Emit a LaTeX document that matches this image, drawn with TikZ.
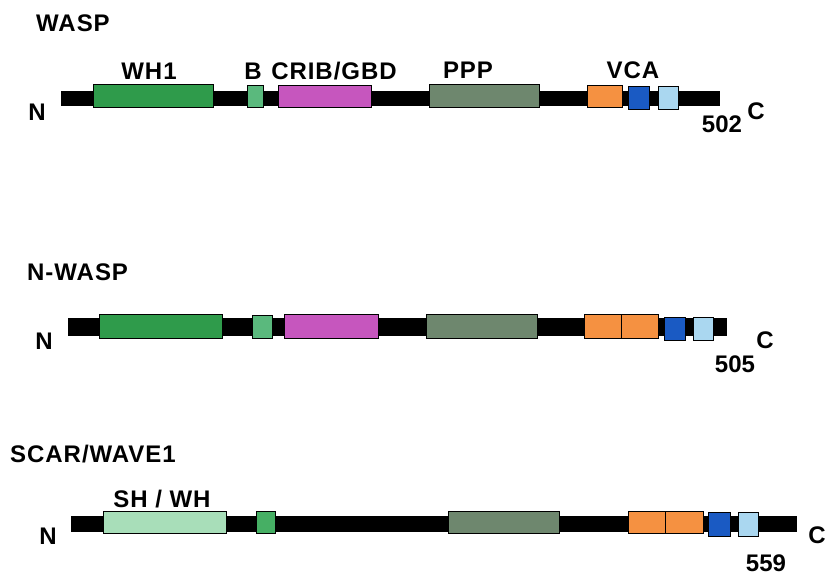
\documentclass[tikz,border=0pt]{standalone}
\usepackage{fontspec}
\setmainfont{Liberation Sans}
\definecolor{whgreen}{HTML}{2F9B4B}
\definecolor{bgreen}{HTML}{5AB97D}
\definecolor{sgreen}{HTML}{46AF64}
\definecolor{shgreen}{HTML}{A8DEB9}
\definecolor{crib}{HTML}{C656BE}
\definecolor{pro}{HTML}{6E876E}
\definecolor{vorange}{HTML}{F59141}
\definecolor{cblue}{HTML}{1A5AC3}
\definecolor{alblue}{HTML}{AAD7F0}
\tikzset{
  spine/.style={fill=black, draw=none, anchor=north west, inner sep=0pt, outer sep=0pt},
  dom/.style={draw=black, line width=1pt, anchor=north west, inner sep=0pt, outer sep=0pt},
  lbl/.style={font=\fontsize{24}{26}\selectfont\bfseries\addfontfeatures{LetterSpace=4}, inner sep=0pt},
  endlbl/.style={font=\fontsize{24}{26}\selectfont\bfseries, inner sep=0pt},
}
\newcommand{\bx}[6]{% name, colour, x, y, width, height
  \node[dom, fill=#2, minimum width=#5pt, minimum height=#6pt] (#1) at (#3,#4) {};}
\begin{document}
\begin{tikzpicture}[x=1pt,y=-1pt]
\useasboundingbox (0,0) rectangle (829,577);

% ---- WASP ----
\node[lbl, anchor=west] (t1) at (36,23) {WASP};
\node[spine, minimum width=659pt, minimum height=15pt] (s1) at (61,91) {};
\bx{a1}{whgreen}{93}{85}{120}{23}
\bx{a2}{bgreen}{247}{86}{16}{22}
\bx{a3}{crib}{278}{86}{93}{22}
\bx{a4}{pro}{429}{85}{110}{23}
\bx{a5}{vorange}{587}{86}{35}{22}
\bx{a6}{cblue}{628}{87}{21}{23}
\bx{a7}{alblue}{658}{87}{20}{23}
\node[lbl] (la1) at (149,71) {WH1};
\node[lbl] (la2) at (253,71) {B};
\node[lbl] (la3) at (334,71) {CRIB/GBD};
\node[lbl] (la4) at (468,70) {PPP};
\node[lbl] (la5) at (633,70) {VCA};
\node[endlbl] (n1) at (37,112) {N};
\node[endlbl] (c1) at (756,111) {C};
\node[endlbl] (e1) at (722,124) {502};

% ---- N-WASP ----
\node[lbl, anchor=west] (t2) at (27,272) {N-WASP};
\node[spine, minimum width=659pt, minimum height=18pt] (s2) at (68,318) {};
\bx{b1}{whgreen}{99}{314}{123}{24}
\bx{b2}{bgreen}{252}{315}{20}{23}
\bx{b3}{crib}{284}{314}{94}{24}
\bx{b4}{pro}{426}{314}{111}{24}
\bx{b5}{vorange}{584}{314}{37}{24}
\bx{b6}{vorange}{621}{314}{37}{24}
\bx{b7}{cblue}{664}{317}{21}{23}
\bx{b8}{alblue}{693}{317}{20}{23}
\node[endlbl] (n2) at (44,341) {N};
\node[endlbl] (c2) at (765,340) {C};
\node[endlbl] (e2) at (735,364) {505};

% ---- SCAR/WAVE1 ----
\node[lbl, anchor=west] (t3) at (10,454) {SCAR/WAVE1};
\node[spine, minimum width=726pt, minimum height=16pt] (s3) at (71,516) {};
\bx{d1}{shgreen}{103}{511}{123}{22}
\bx{d2}{sgreen}{256}{511}{19}{22}
\bx{d3}{pro}{448}{511}{111}{22}
\bx{d4}{vorange}{628}{511}{37}{22}
\bx{d5}{vorange}{665}{511}{38}{22}
\bx{d6}{cblue}{708}{512}{22}{24}
\bx{d7}{alblue}{738}{512}{20}{24}
\node[lbl] (ld1) at (162,499) {SH / WH};
\node[endlbl] (n3) at (48,536) {N};
\node[endlbl] (c3) at (817,535) {C};
\node[endlbl] (e3) at (766,563) {559};
\end{tikzpicture}
\end{document}
